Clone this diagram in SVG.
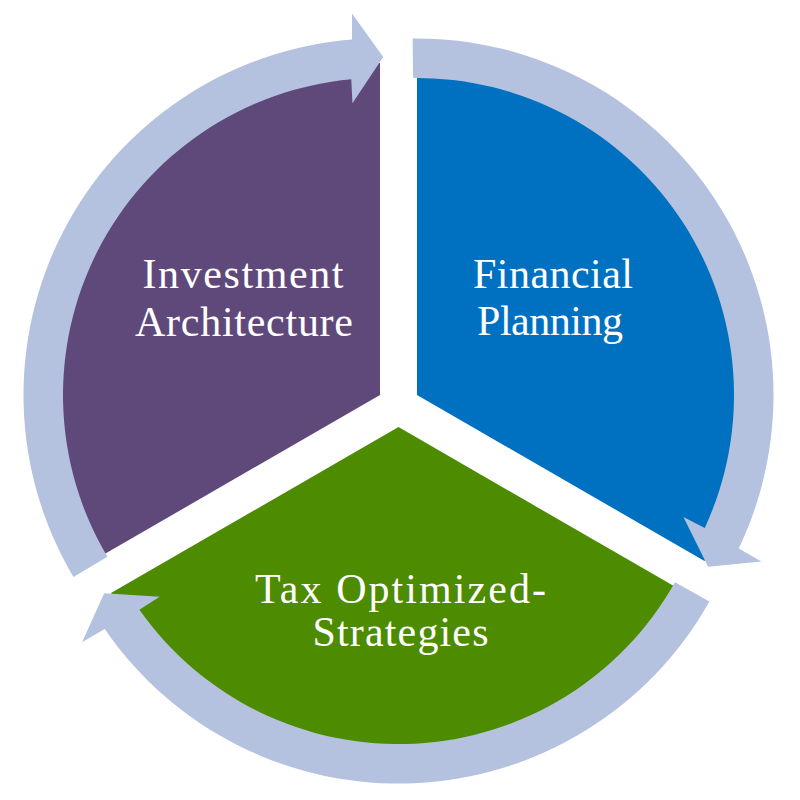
<svg xmlns="http://www.w3.org/2000/svg" width="800" height="800" viewBox="0 0 800 800">
<style>
.lbl{font-family:"Liberation Serif","Times New Roman",serif;font-size:42px;fill:#FFFFFF;text-anchor:middle}
.arr{fill:#B4C2DF}
</style>
<rect width="800" height="800" fill="#FFFFFF"/>
<g id="investment-architecture">
<path d="M380,395 L92.48,561 A332,332 0 0 1 380,63 Z" fill="#5F497A"/>
<text class="lbl" x="243" y="288" textLength="201" lengthAdjust="spacing">Investment</text>
<text class="lbl" x="244" y="336" textLength="218" lengthAdjust="spacing">Architecture</text>
</g>
<g id="financial-planning">
<path d="M417,395 L417,63 A332,332 0 0 1 704.52,561 Z" fill="#0070C0"/>
<text class="lbl" x="553" y="288" textLength="160" lengthAdjust="spacing">Financial</text>
<text class="lbl" x="550" y="335" textLength="146" lengthAdjust="spacing">Planning</text>
</g>
<g id="tax-optimized-strategies">
<path d="M398.5,427.1 L686.02,593.1 A332,332 0 0 1 110.98,593.1 Z" fill="#4D8B00"/>
<text class="lbl" x="400.5" y="603" textLength="291" lengthAdjust="spacing">Tax Optimized-</text>
<text class="lbl" x="400.5" y="646" textLength="176" lengthAdjust="spacing">Strategies</text>
</g>
<g id="connectors">
<path class="arr" d="M73.46,577.01 A356.5,356.5 0 0 1 352.03,39.60 L351.98,13.43 L383.24,57.00 L352.43,103.30 L351.27,79.30 A317,317 0 0 0 107.43,556.84 Z"/>
<path class="arr" d="M412.64,38.53 A356.5,356.5 0 0 1 738.77,548.48 L761.46,561.52 L708.08,566.81 L683.41,516.97 L704.77,527.97 A317,317 0 0 0 413.13,78.02 Z"/>
<path class="arr" d="M709.39,601.56 A356.5,356.5 0 0 1 104.70,629.02 L82.06,642.15 L104.18,593.30 L159.67,596.83 L139.46,609.83 A317,317 0 0 0 674.95,582.23 Z"/>
</g>
</svg>
